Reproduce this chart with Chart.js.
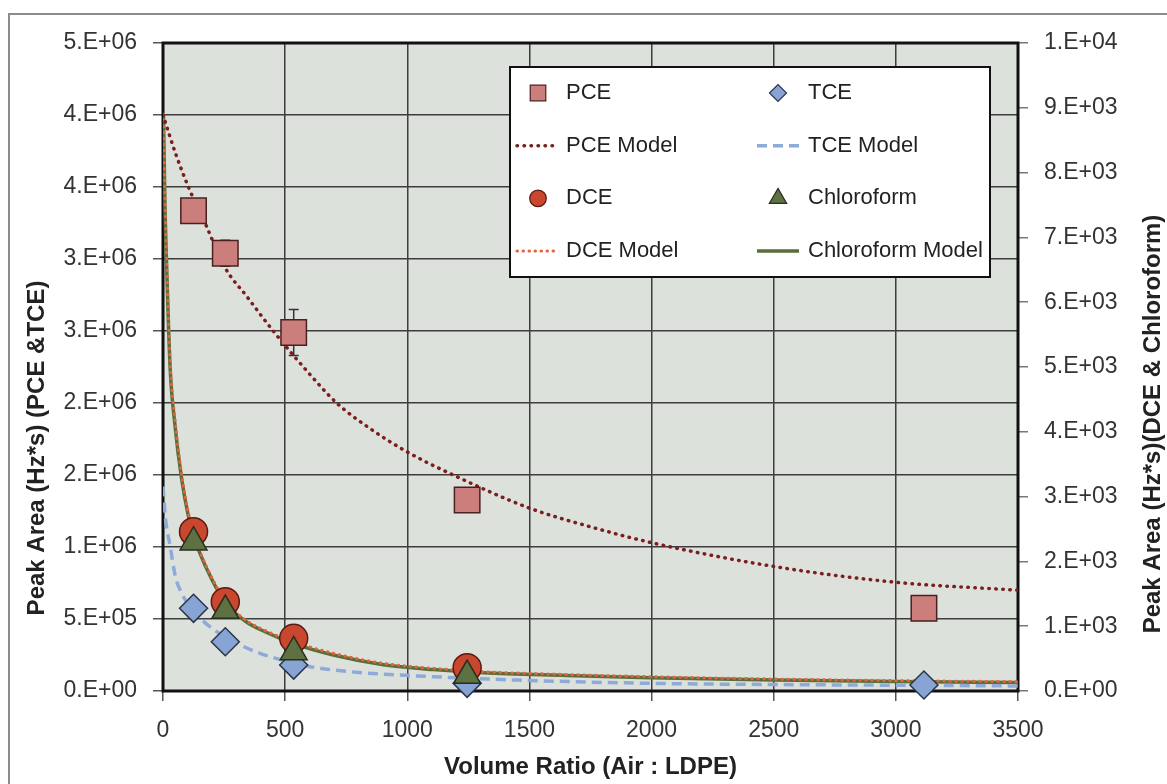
<!DOCTYPE html>
<html>
<head>
<meta charset="utf-8">
<script src="https://cdn.jsdelivr.net/npm/chart.js@4.4.0/dist/chart.umd.min.js"></script>
<style>
  html, body { margin: 0; padding: 0; background: #fff; overflow: hidden; }
  #frame { position: absolute; left: 8px; top: 13px; width: 1200px; height: 800px;
           border-left: 2px solid #8c8c8c; border-top: 2px solid #8c8c8c; }
  canvas { position: absolute; left: 0; top: 0; }
</style>
</head>
<body>
<div id="frame"></div>
<canvas id="c" width="1167" height="784"></canvas>
<script>
// measured points (Air : LDPE volume ratio)
const ratios = [125, 255, 535, 1245, 3115];
const pce = [3.335e6, 3.04e6, 2.49e6, 1.326e6, 0.574e6];
const pceErr = [0, 9e4, 1.6e5, 0, 0];
const tce = [0.574e6, 0.342e6, 0.18e6, 0.053e6, 0.042e6];
const dce = [2458, 1378, 813, 360, null];
const chloroform = [2296, 1242, 602, 239, null];

// model curves
const pceModelX = [0, 50, 104, 172, 254, 343, 451, 580, 711, 850, 1000, 1188, 1500, 1750, 2000, 2500, 3000, 3500];
const pceModelY = [4.0e6, 3.74e6, 3.5e6, 3.25e6, 2.94e6, 2.74e6, 2.5e6, 2.24e6, 2.0e6, 1.82e6, 1.66e6, 1.5e6,
                   1.27e6, 1.14e6, 1.03e6, 0.865e6, 0.755e6, 0.70e6];
const tceModelX = [0, 10, 30, 50, 76, 100, 125, 172, 205, 255, 322, 400, 500, 602, 766, 1039, 1448, 2000, 2500, 3000, 3500];
const tceModelY = [1.42e6, 1.2e6, 1.0e6, 0.80e6, 0.68e6, 0.61e6, 0.555e6, 0.475e6, 0.43e6, 0.375e6, 0.315e6,
                   0.26e6, 0.21e6, 0.169e6, 0.134e6, 0.105e6, 0.076e6, 0.053e6, 0.045e6, 0.04e6, 0.035e6];
const dceModelX = [2, 8, 15, 29, 49, 76, 104, 127, 145, 200, 254, 336, 420, 535, 697, 902, 1107, 1311, 1650, 1994, 2500, 3000, 3500];
const dceModelY = [8900, 7600, 6650, 5100, 4200, 3350, 2750, 2430, 2220, 1750, 1400, 1100, 930, 760, 582, 427,
                   350, 298, 255, 221, 185, 160, 144];
const chloroModelY = [8900, 7500, 6550, 5000, 4100, 3280, 2700, 2380, 2180, 1720, 1370, 1080, 910, 730, 555, 405,
                      330, 280, 240, 205, 170, 145, 130];

const leftTicks = { min: 0, max: 4.5e6, step: 5e5 };
const rightTicks = { min: 0, max: 1e4, step: 1000 };
const xTicks = { min: 0, max: 3500, step: 500 };

const FONT = '"Liberation Sans", Arial, sans-serif';
const pts = (xs, ys) => xs.map((x, i) => ({ x: x, y: ys[i] }));

function sci(v) {
  if (v === 0) return '0.E+00';
  let e = Math.floor(Math.log10(Math.abs(v)) + 1e-9);
  let m = Math.round(v / Math.pow(10, e) + 1e-9);
  if (m >= 10) { m = 1; e += 1; }
  return m + '.E' + (e < 0 ? '-' : '+') + String(Math.abs(e)).padStart(2, '0');
}

const marker = (label, data, axis, style, radius, fill, border, order) => ({
  label, data, yAxisID: axis, showLine: false, pointStyle: style, pointRadius: radius,
  pointHoverRadius: radius, backgroundColor: fill, borderColor: border, pointBorderWidth: 1.5,
  borderWidth: 1.5, order, clip: false
});
const model = (label, data, axis, color, width, dash, cap, order) => ({
  label, data, yAxisID: axis, showLine: true, pointRadius: 0, pointHoverRadius: 0,
  borderColor: color, backgroundColor: color, borderWidth: width, borderDash: dash,
  borderCapStyle: cap, cubicInterpolationMode: 'monotone', fill: false, order
});

const datasets = [
  marker('PCE', pts(ratios, pce), 'y', 'rect', 18, '#cc7e7c', '#4a2020', 4),
  marker('TCE', pts(ratios, tce), 'y', 'rectRot', 14, '#88a4d4', '#2b3548', 3),
  marker('DCE', pts(ratios, dce), 'y1', 'circle', 14, '#c9472f', '#5a1a10', 2),
  marker('Chloroform', pts(ratios, chloroform), 'y1', 'triangle', 15.5, '#5e7142', '#262e1c', 1),
  model('PCE Model', pts(pceModelX, pceModelY), 'y', '#7a1e1e', 3.5, [0.5, 6.5], 'round', 10),
  model('TCE Model', pts(tceModelX, tceModelY), 'y', '#8eaad8', 3.5, [10, 6], 'butt', 11),
  model('DCE Model', pts(dceModelX, dceModelY), 'y1', '#e2643e', 3, [0.5, 5.5], 'round', 12),
  model('Chloroform Model', pts(dceModelX, chloroModelY), 'y1', '#5a6e3a', 3.5, [], 'butt', 13)
];

const legendRows = [[0, 1], [4, 5], [2, 3], [6, 7]];
const legendRadius = { 0: 11, 1: 8.5, 2: 8.3, 3: 10 };

const decor = {
  id: 'decor',
  beforeDraw(chart) {
    const { ctx, chartArea: a } = chart;
    ctx.save();
    ctx.fillStyle = '#dde1dc';
    ctx.fillRect(a.left, a.top, a.right - a.left, a.bottom - a.top);
    ctx.restore();
  },
  beforeDatasetsDraw(chart) {
    const { ctx, chartArea: a } = chart;
    ctx.save();
    ctx.strokeStyle = '#111';
    ctx.lineWidth = 3;
    ctx.strokeRect(a.left, a.top, a.right - a.left, a.bottom - a.top);
    // error bars on PCE
    const ys = chart.scales.y;
    const meta = chart.getDatasetMeta(0);
    ctx.strokeStyle = '#333';
    ctx.lineWidth = 1.5;
    pceErr.forEach((err, i) => {
      if (!err) return;
      const x = meta.data[i].x;
      const top = ys.getPixelForValue(pce[i] + err);
      const bot = ys.getPixelForValue(pce[i] - err);
      ctx.beginPath();
      ctx.moveTo(x, top); ctx.lineTo(x, bot);
      ctx.moveTo(x - 5, top); ctx.lineTo(x + 5, top);
      ctx.moveTo(x - 5, bot); ctx.lineTo(x + 5, bot);
      ctx.stroke();
    });
    ctx.restore();
  },
  afterDraw(chart) {
    const { ctx, chartArea: a } = chart;
    ctx.save();
    // legend box
    const bw = 480, bh = 210;
    const bx = a.right - 28 - bw, by = a.top + 24;
    ctx.fillStyle = '#fff';
    ctx.fillRect(bx, by, bw, bh);
    ctx.lineWidth = 2;
    ctx.strokeStyle = '#111';
    ctx.strokeRect(bx, by, bw, bh);
    ctx.font = '22px ' + FONT;
    ctx.textBaseline = 'middle';
    ctx.textAlign = 'left';
    legendRows.forEach((row, r) => {
      const y = by + 26 + r * 52.7;
      row.forEach((di, c) => {
        const ds = chart.data.datasets[di];
        const mx = bx + (c ? 268 : 28);
        const tx = bx + (c ? 298 : 56);
        ctx.save();
        if (ds.showLine) {
          ctx.strokeStyle = ds.borderColor;
          ctx.lineWidth = ds.borderWidth;
          ctx.setLineDash(ds.borderDash);
          ctx.lineCap = ds.borderCapStyle;
          ctx.beginPath();
          ctx.moveTo(mx - 21, y); ctx.lineTo(mx + 21, y);
          ctx.stroke();
        } else {
          ctx.fillStyle = ds.backgroundColor;
          ctx.strokeStyle = ds.borderColor;
          ctx.lineWidth = 1.2;
          Chart.helpers.drawPoint(ctx, { pointStyle: ds.pointStyle, radius: legendRadius[di], rotation: 0, borderWidth: 1.2 }, mx, y);
        }
        ctx.restore();
        ctx.fillStyle = '#222';
        ctx.fillText(ds.label, tx, y);
      });
    });
    // vertical axis titles
    ctx.fillStyle = '#222';
    ctx.font = 'bold 24px ' + FONT;
    ctx.textAlign = 'center';
    ctx.save();
    ctx.translate(37, 448);
    ctx.rotate(-Math.PI / 2);
    ctx.fillText('Peak Area (Hz*s) (PCE &TCE)', 0, 0);
    ctx.restore();
    ctx.save();
    ctx.translate(1153, 424);
    ctx.rotate(-Math.PI / 2);
    ctx.fillText('Peak Area (Hz*s)(DCE & Chloroform)', 0, 0);
    ctx.restore();
    ctx.restore();
  }
};

const tickFont = { family: FONT, size: 23 };
const gridStyle = { color: '#3d3d3d', lineWidth: 1.5, tickLength: 10, tickColor: '#555', tickWidth: 1.5 };

new Chart(document.getElementById('c'), {
  type: 'scatter',
  data: { datasets },
  options: {
    responsive: false,
    animation: false,
    devicePixelRatio: 1,
    layout: { padding: { top: 43, left: 0, right: 0, bottom: 0 } },
    plugins: { legend: { display: false }, tooltip: { enabled: false } },
    scales: {
      x: {
        type: 'linear', position: 'bottom',
        min: xTicks.min, max: xTicks.max,
        ticks: { stepSize: xTicks.step, padding: 16, font: tickFont, color: '#333', maxRotation: 0,
                 callback: v => String(v) },
        grid: gridStyle,
        border: { display: false },
        title: { display: true, text: 'Volume Ratio (Air : LDPE)', color: '#222',
                 font: { family: FONT, size: 24, weight: 'bold' }, padding: { top: 0, bottom: 2 } },
        afterFit(s) { s.height = 93; }
      },
      y: {
        type: 'linear', position: 'left',
        min: leftTicks.min, max: leftTicks.max,
        ticks: { stepSize: leftTicks.step, padding: 16, font: tickFont, color: '#333', callback: v => sci(v) },
        grid: gridStyle,
        border: { display: false },
        afterFit(s) { s.width = 163; }
      },
      y1: {
        type: 'linear', position: 'right',
        min: rightTicks.min, max: rightTicks.max,
        ticks: { stepSize: rightTicks.step, padding: 16, font: tickFont, color: '#333', callback: v => sci(v) },
        grid: Object.assign({}, gridStyle, { drawOnChartArea: false, tickColor: '#777' }),
        border: { display: false },
        afterFit(s) { s.width = 149; }
      }
    }
  },
  plugins: [decor]
});
</script>
</body>
</html>
